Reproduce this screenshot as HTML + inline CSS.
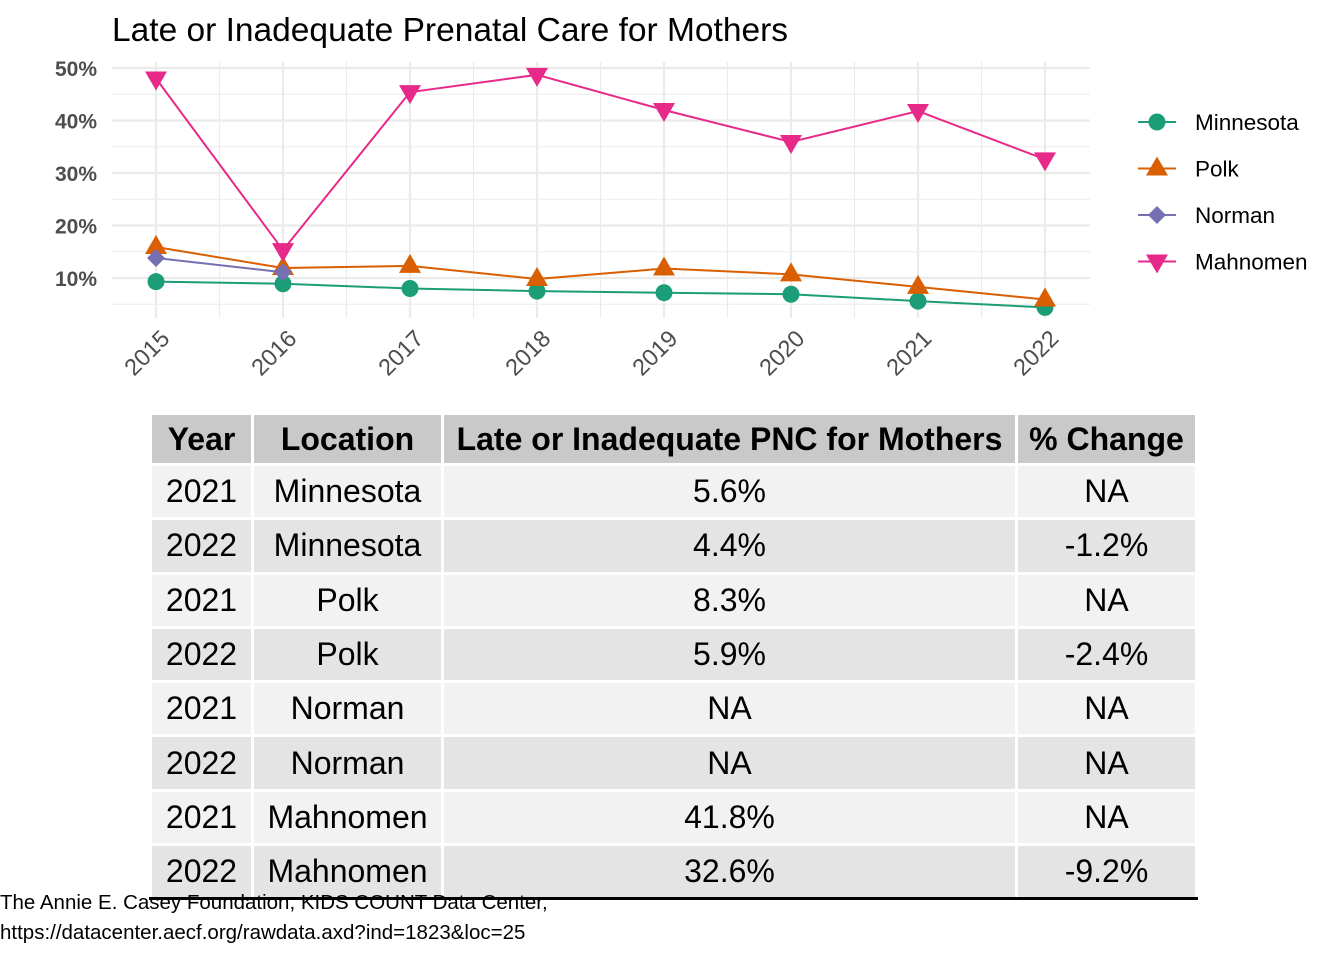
<!DOCTYPE html>
<html><head><meta charset="utf-8"><style>
body{margin:0;background:#fff;width:1344px;height:960px;overflow:hidden;font-family:"Liberation Sans",Arial,sans-serif;position:relative}
table{position:absolute;left:149px;top:412px;border-collapse:collapse;table-layout:fixed;width:1046px;font-size:32px;color:#000}
td,th{border:3px solid #fff;text-align:center;padding:0;height:51.3px;white-space:nowrap;overflow:visible}
th{background:#c9c9c9;font-weight:bold;height:48px}
tr.a td{background:#f2f2f2}tr.b td{background:#e4e4e4}
.src{position:absolute;left:0;font-size:20.5px;color:#000}
</style></head><body>
<svg id="chart" width="1344" height="400" style="position:absolute;left:0;top:0"></svg>
<table>
<colgroup><col style="width:102px"><col style="width:190px"><col style="width:574px"><col style="width:180px"></colgroup>
<tr><th>Year</th><th>Location</th><th>Late or Inadequate PNC for Mothers</th><th>% Change</th></tr>
<tr class="a"><td>2021</td><td>Minnesota</td><td>5.6%</td><td>NA</td></tr>
<tr class="b"><td>2022</td><td>Minnesota</td><td>4.4%</td><td>-1.2%</td></tr>
<tr class="a"><td>2021</td><td>Polk</td><td>8.3%</td><td>NA</td></tr>
<tr class="b"><td>2022</td><td>Polk</td><td>5.9%</td><td>-2.4%</td></tr>
<tr class="a"><td>2021</td><td>Norman</td><td>NA</td><td>NA</td></tr>
<tr class="b"><td>2022</td><td>Norman</td><td>NA</td><td>NA</td></tr>
<tr class="a"><td>2021</td><td>Mahnomen</td><td>41.8%</td><td>NA</td></tr>
<tr class="b"><td style="border-bottom:3px solid #000">2022</td><td style="border-bottom:3px solid #000">Mahnomen</td><td style="border-bottom:3px solid #000">32.6%</td><td style="border-bottom:3px solid #000">-9.2%</td></tr>
</table>
<div class="src" style="top:891px">The Annie E. Casey Foundation, KIDS COUNT Data Center,</div>
<div class="src" style="top:921px">https://datacenter.aecf.org/rawdata.axd?ind=1823&amp;loc=25</div>
<script>
const years=[2015,2016,2017,2018,2019,2020,2021,2022];
const yTicks=[10,20,30,40,50];
const minnesota=[9.3,8.9,8.0,7.5,7.2,6.9,5.6,4.4];
const polk=[15.9,11.9,12.3,9.8,11.8,10.7,8.3,5.9];
const norman=[13.8,11.1,null,null,null,null,null,null];
const mahnomen=[48.0,15.3,45.4,48.7,42.0,35.9,41.8,32.6];
const svg=document.getElementById('chart');
const NS='http://www.w3.org/2000/svg';
const X=y=>156+(y-2015)*127;
const Y=v=>330.5-v*5.25;
function mk(t,a,p){const e=document.createElementNS(NS,t);for(const k in a)e.setAttribute(k,a[k]);(p||svg).appendChild(e);return e;}
let t=mk('text',{x:112,y:41,'font-size':33.5,fill:'#000'});t.textContent='Late or Inadequate Prenatal Care for Mothers';

const L=112,R=1090,T=62,B=318;
for(let v=5;v<=50;v+=5){const g=mk('line',{x1:L,x2:R,y1:Y(v),y2:Y(v),stroke:'#ebebeb','stroke-width':v%10?1.1:2.2});}
for(let i=0;i<years.length;i++){const g=mk('line',{x1:X(years[i]),x2:X(years[i]),y1:T,y2:B,stroke:'#ebebeb','stroke-width':2.2});
if(i<years.length-1)mk('line',{x1:X(years[i]+0.5),x2:X(years[i]+0.5),y1:T,y2:B,stroke:'#ebebeb','stroke-width':1.1});
const tx=mk('text',{x:0,y:0,'font-size':23.5,fill:'#4d4d4d','text-anchor':'end',transform:`translate(${X(years[i])+15},${B+22}) rotate(-45)`});tx.textContent=years[i];
}
yTicks.forEach(v=>{const tx=mk('text',{x:97,y:Y(v)+8,'font-size':21,'font-weight':'bold',fill:'#4d4d4d','text-anchor':'end'});tx.textContent=v+'%';
});
function marker(shape,x,y,c,p){
 if(shape=='circle')return mk('circle',{cx:x,cy:y,r:8.5,fill:c},p);
 if(shape=='up')return mk('polygon',{points:`${x},${y-12} ${x-11},${y+7} ${x+11},${y+7}`,fill:c},p);
 if(shape=='down')return mk('polygon',{points:`${x},${y+12} ${x-11},${y-7} ${x+11},${y-7}`,fill:c},p);
 return mk('polygon',{points:`${x},${y-9} ${x+9},${y} ${x},${y+9} ${x-9},${y}`,fill:c},p);}
const series=[['Minnesota',minnesota,'#1b9e77','circle'],['Polk',polk,'#d95f02','up'],['Norman',norman,'#7570b3','diamond'],['Mahnomen',mahnomen,'#e7298a','down']];
series.forEach(([n,d,c,s],k)=>{
 const g=mk('g',{});
 const pts=[];d.forEach((v,i)=>{if(v!=null)pts.push(X(years[i])+','+Y(v));});
 mk('polyline',{points:pts.join(' '),fill:'none',stroke:c,'stroke-width':2},g);
 d.forEach((v,i)=>{if(v!=null){const m=marker(s,X(years[i]),Y(v),c,g);}});
 const ly=122+k*46.5;
 const lg=mk('g',{});
 mk('line',{x1:1138,x2:1176,y1:ly,y2:ly,stroke:c,'stroke-width':2},lg);marker(s,1157,ly,c,lg);
 const tx=mk('text',{x:1195,y:ly+8,'font-size':22.5,fill:'#000'},lg);tx.textContent=n;});
</script>
</body></html>
